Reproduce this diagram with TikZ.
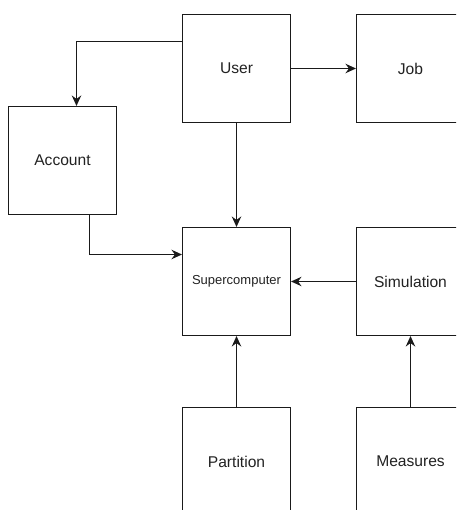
\documentclass[tikz,border=0pt]{standalone}
\usepackage{fontspec}
\setmainfont{Liberation Sans}
\usetikzlibrary{arrows.meta}
\definecolor{ln}{HTML}{1A1A1A}
\definecolor{tx}{HTML}{222222}
\tikzset{
  box/.style={draw=ln, line width=1.1pt, minimum width=108pt, minimum height=108pt, inner sep=0pt, text=tx, font=\fontsize{15.6}{18}\selectfont},
  arr/.style={draw=ln, line width=1.1pt, -{Stealth[length=10.5pt,width=9.5pt,inset=3.5pt]}}
}
\begin{document}
\begin{tikzpicture}[x=1pt,y=-1pt]
\useasboundingbox (0,0) rectangle (456,510);
\clip (0,0) rectangle (456,510);
\fill[white] (0,0) rectangle (456,510);
\node[box] (user) at (236.5,68.5) {User};
\node[box] (job) at (410.5,68.5) {Job};
\node[box] (account) at (62.5,160.5) {Account};
\node[box, font=\fontsize{13}{15}\selectfont] (super) at (236.5,281.5) {Supercomputer};
\node[box] (sim) at (410.5,281.5) {Simulation};
\node[box] (part) at (236.5,461.5) {Partition};
\node[box] (meas) at (410.5,461.5) {Measures};
\draw[arr] (user.west |- 0,41.5) -| (account.north -| 76.5,0);
\draw[arr] (user.south) -- (super.north);
\draw[arr] (account.south -| 89.5,0) |- (super.west |- 0,254.5);
\draw[arr] (user.east) -- (job.west);
\draw[arr] (sim.west) -- (super.east);
\draw[arr] (part.north) -- (super.south);
\draw[arr] (meas.north) -- (sim.south);
\end{tikzpicture}
\end{document}
